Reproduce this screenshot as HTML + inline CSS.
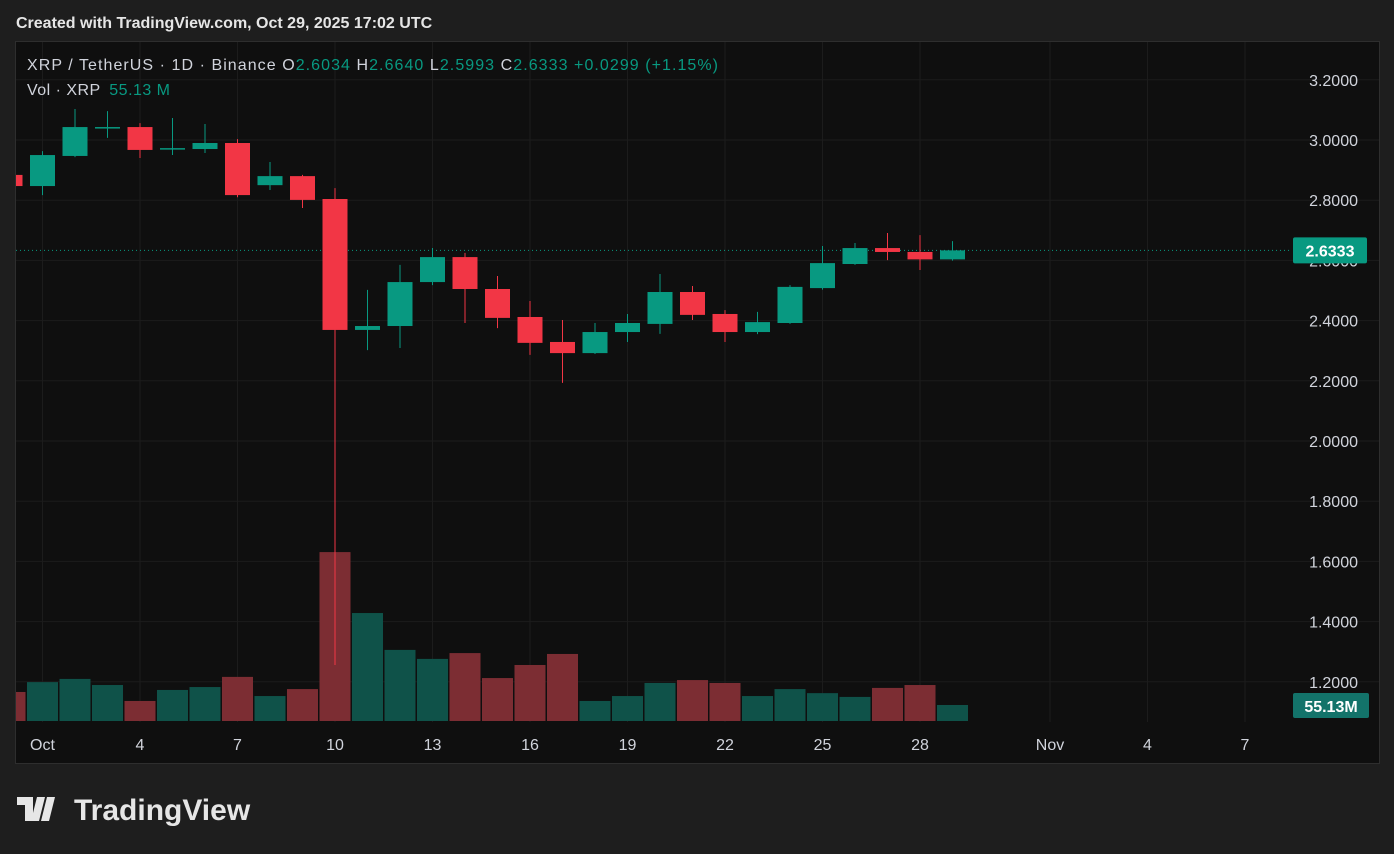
<!DOCTYPE html>
<html><head><meta charset="utf-8"><style>
html,body{margin:0;padding:0;background:#1e1e1e;width:1394px;height:854px;overflow:hidden;font-family:"Liberation Sans",sans-serif}
svg{display:block}
</style></head><body>
<svg id="c" width="1394" height="854" xmlns="http://www.w3.org/2000/svg">
<defs><clipPath id="pane"><rect x="16" y="42" width="1363" height="680"/></clipPath></defs>
<rect x="0" y="0" width="1394" height="854" fill="#1e1e1e"/>
<text x="16" y="28" fill="#e6e6e6" font-size="16" font-weight="bold">Created with TradingView.com, Oct 29, 2025 17:02 UTC</text>
<rect x="15.5" y="41.5" width="1364" height="722" fill="#0f0f0f" stroke="#2e2e2e"/>
<g id="grid"></g>
<g clip-path="url(#pane)">
<g id="vol"></g>
<line x1="16" x2="1290" y1="250" y2="250" stroke="#089981" stroke-dasharray="1 3" id="lastline"/>
<g id="candles"></g>
</g>
<g id="yaxis"></g>
<g id="xaxis"></g>
<text x="27" y="70" font-size="16" fill="#d1d4dc" textLength="691" lengthAdjust="spacing">XRP / TetherUS · 1D · Binance <tspan fill="#d1d4dc"> O</tspan><tspan fill="#089981">2.6034</tspan><tspan fill="#d1d4dc">  H</tspan><tspan fill="#089981">2.6640</tspan><tspan fill="#d1d4dc">  L</tspan><tspan fill="#089981">2.5993</tspan><tspan fill="#d1d4dc">  C</tspan><tspan fill="#089981">2.6333  +0.0299 (+1.15%)</tspan></text>
<text x="27" y="95" font-size="16" fill="#d1d4dc" textLength="143" lengthAdjust="spacing">Vol · XRP <tspan fill="#089981" dx="4">55.13 M</tspan></text>
<g>
<path d="M17 797h16v24h-8v-16h-8z M37 797h8l-6 24h-8z M47 797h8l-6 24h-8z" fill="#e6e6e6"/>
<text x="74" y="820" font-size="30" font-weight="bold" fill="#e6e6e6">TradingView</text>
</g>
</svg>
<script>
const days=[0,1,2,3,4,5,6,7,8,9,10,11,12,13,14,15,16,17,18,19,20,21,22,23,24,25,26,27,28,29];
const opens=[2.884,2.847,2.947,3.040,3.043,2.970,2.970,2.990,2.850,2.880,2.804,2.369,2.382,2.528,2.611,2.505,2.412,2.329,2.292,2.362,2.389,2.495,2.422,2.362,2.392,2.508,2.588,2.641,2.628,2.6034];
const highs=[2.890,2.963,3.103,3.096,3.056,3.073,3.053,3.003,2.927,2.884,2.840,2.502,2.585,2.641,2.625,2.548,2.465,2.402,2.392,2.422,2.555,2.515,2.435,2.429,2.518,2.648,2.658,2.691,2.684,2.664];
const lows=[2.840,2.817,2.943,3.007,2.940,2.950,2.957,2.810,2.834,2.774,1.256,2.302,2.309,2.518,2.392,2.375,2.286,2.193,2.289,2.329,2.356,2.402,2.329,2.355,2.389,2.503,2.585,2.601,2.568,2.5993];
const closes=[2.847,2.950,3.043,3.043,2.967,2.973,2.990,2.817,2.880,2.801,2.369,2.382,2.528,2.611,2.505,2.409,2.326,2.292,2.362,2.392,2.495,2.419,2.362,2.395,2.512,2.591,2.641,2.628,2.6034,2.6333];
const volumes=[100,134,145,124,69,107,117,152,86,110,582,372,245,214,234,148,193,231,69,86,131,141,131,86,110,96,83,114,124,55.13];
const priceTicks=[3.2,3.0,2.8,2.6,2.4,2.2,2.0,1.8,1.6,1.4,1.2];
const timeTicks=[1,4,7,10,13,16,19,22,25,28,32,35,38];
const timeLabels=["Oct","4","7","10","13","16","19","22","25","28","Nov","4","7"];
const lastPrice=2.6333, lastVol="55.13M";
const NS="http://www.w3.org/2000/svg";
const X=d=>335+(d-10)*32.5;
const Y=p=>140+(3.0-p)*301;
const VB=721, VH=v=>v*16/55.13;
function mk(t,a,parent){const e=document.createElementNS(NS,t);for(const k in a)e.setAttribute(k,a[k]);document.getElementById(parent).appendChild(e);return e;}
priceTicks.forEach(p=>{
 const l=mk('line',{x1:16,x2:1379,y1:Y(p),y2:Y(p),stroke:'#1c1c1c'},'grid');
 
 
 const t=mk('text',{x:1358,y:Y(p)+6,'text-anchor':'end','font-size':16,fill:'#d1d4dc'},'yaxis');
 t.textContent=p.toFixed(4);
 
 
});
timeTicks.forEach((d,i)=>{
 const l=mk('line',{x1:X(d),x2:X(d),y1:42,y2:722,stroke:'#1c1c1c'},'grid');
 
 
 const t=mk('text',{x:X(d),y:750,'text-anchor':'middle','font-size':16,fill:'#d1d4dc'},'xaxis');
 t.textContent=timeLabels[i];
 
 
});
days.forEach((d,i)=>{
 const up=closes[i]>=opens[i];
 const h=VH(volumes[i]);
 const r=mk('rect',{x:X(d)-15.5,y:VB-h,width:31,height:h,fill:up?'#0f5249':'#7c2d33'},'vol');
 
 
});
days.forEach((d,i)=>{
 const up=closes[i]>=opens[i];const c=up?'#089981':'#f23645';
 const w=mk('line',{x1:X(d),x2:X(d),y1:Y(highs[i]),y2:Y(lows[i]),stroke:c,'stroke-width':1},'candles');
 
 
 const top=Y(Math.max(opens[i],closes[i])),bot=Y(Math.min(opens[i],closes[i]));
 const b=mk('rect',{x:X(d)-12.5,y:top,width:25,height:Math.max(1.5,bot-top),fill:c},'candles');
 
 
});
document.getElementById('lastline').setAttribute('y1',Y(lastPrice));
document.getElementById('lastline').setAttribute('y2',Y(lastPrice));
const pb=mk('rect',{x:1293,y:Y(lastPrice)-13,width:74,height:26,rx:2,fill:'#089981'},'yaxis');


const pt=mk('text',{x:1330,y:Y(lastPrice)+6,'text-anchor':'middle','font-size':16,'font-weight':'bold',fill:'#fff'},'yaxis');
pt.textContent=lastPrice.toFixed(4);


const vb=mk('rect',{x:1293,y:693,width:76,height:25,rx:2,fill:'#13736a'},'yaxis');


const vt=mk('text',{x:1331,y:712,'text-anchor':'middle','font-size':16,'font-weight':'bold',fill:'#fff'},'yaxis');
vt.textContent=lastVol;


</script>
</body></html>
